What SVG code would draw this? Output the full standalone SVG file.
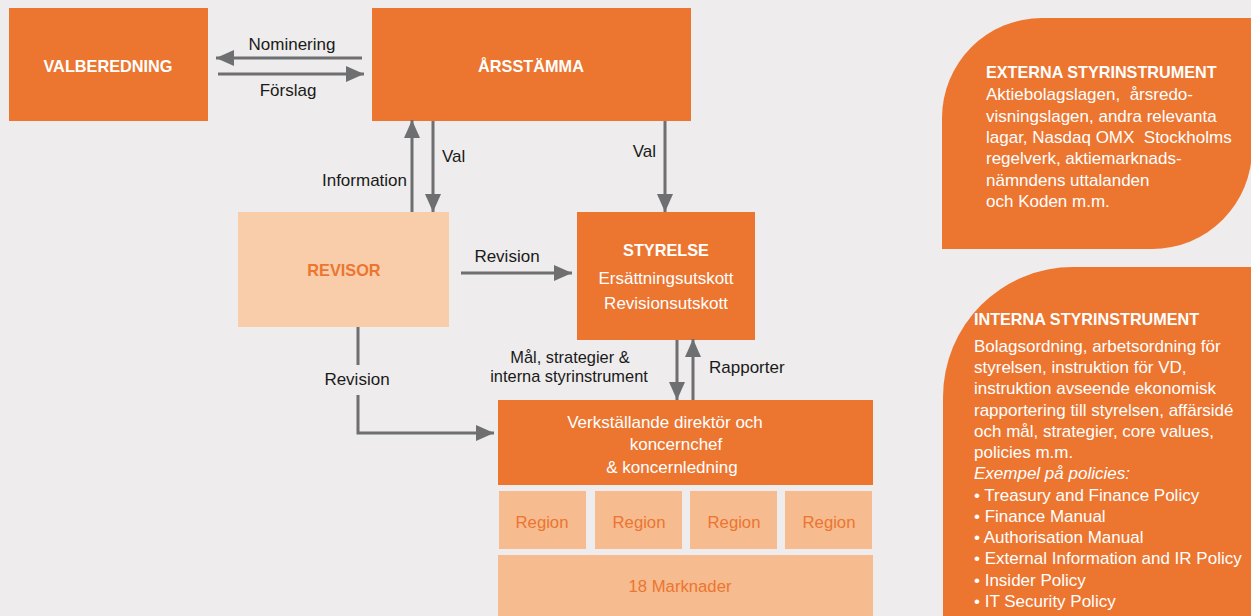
<svg xmlns="http://www.w3.org/2000/svg" width="1251" height="616" viewBox="0 0 1251 616">
<defs>
<style>
text{font-family:"Liberation Sans",Arial,sans-serif;}
.org{fill:#ec7530;}
.pale{fill:#f9cda9;}
.peach{fill:#f6bb8f;}
.bw{fill:#ffffff;font-weight:bold;font-size:16.3px;}
.w{fill:#ffffff;font-size:17px;}
.lbl{fill:#1a1a1a;font-size:17px;}
.sm{font-size:16.4px;}
.ot{fill:#ec7530;font-size:16.7px;}
.ob{fill:#ec7530;font-weight:bold;font-size:16.3px;}
.pt{fill:#ffffff;font-size:17px;white-space:pre;}
.ptb{fill:#ffffff;font-size:16.2px;font-weight:bold;}
.ln{stroke:#6e6f71;stroke-width:3;fill:none;}
.arr{marker-end:url(#ah);}
</style>
<marker id="ah" markerUnits="userSpaceOnUse" markerWidth="18" markerHeight="16" refX="18" refY="8" orient="auto">
<path d="M0,0 L18,8 L0,16 Z" fill="#6e6f71"/>
</marker>
</defs>
<rect width="1251" height="616" fill="#eeecec"/>

<g id="valberedning">
<rect class="org" x="9" y="8" width="199" height="113"/>
<text class="bw" x="108" y="72" text-anchor="middle">VALBEREDNING</text>
</g>
<g id="arsstamma">
<rect class="org" x="372" y="8" width="319" height="113"/>
<text class="bw" x="531" y="72" text-anchor="middle">ÅRSSTÄMMA</text>
</g>
<g id="revisor">
<rect class="pale" x="238" y="212" width="211" height="115"/>
<text class="ob" x="344" y="276" text-anchor="middle">REVISOR</text>
</g>
<g id="styrelse">
<rect class="org" x="577" y="212" width="178" height="128"/>
<text class="bw" x="666" y="256" text-anchor="middle">STYRELSE</text>
<text class="w" x="666" y="284" text-anchor="middle">Ersättningsutskott</text>
<text class="w" x="666" y="309" text-anchor="middle">Revisionsutskott</text>
</g>
<g id="vd">
<rect class="org" x="498" y="400" width="375" height="85"/>
<text class="w" x="665" y="428" text-anchor="middle">Verkställande direktör och</text>
<text class="w" x="676" y="450" text-anchor="middle">koncernchef</text>
<text class="w" x="672" y="473" text-anchor="middle">&amp; koncernledning</text>
</g>
<g id="regions">
<rect class="peach" x="499" y="491" width="87" height="58"/>
<rect class="peach" x="595" y="491" width="87" height="58"/>
<rect class="peach" x="690" y="491" width="87" height="58"/>
<rect class="peach" x="785" y="491" width="87" height="58"/>
<text class="ot" x="542" y="528" text-anchor="middle">Region</text>
<text class="ot" x="639" y="528" text-anchor="middle">Region</text>
<text class="ot" x="734" y="528" text-anchor="middle">Region</text>
<text class="ot" x="829" y="528" text-anchor="middle">Region</text>
</g>
<g id="marknader">
<rect class="peach" x="498" y="555" width="375" height="61"/>
<text class="ot" x="680" y="592" text-anchor="middle">18 Marknader</text>
</g>

<g id="connectors">
<line class="ln arr" x1="362" y1="58" x2="216" y2="58"/>
<line class="ln arr" x1="218" y1="74" x2="364" y2="74"/>
<text class="lbl" x="292" y="50" text-anchor="middle">Nominering</text>
<text class="lbl" x="288" y="96" text-anchor="middle">Förslag</text>

<line class="ln arr" x1="412" y1="212" x2="412" y2="120"/>
<line class="ln arr" x1="433" y1="121" x2="433" y2="212"/>
<text class="lbl" x="407" y="186" text-anchor="end">Information</text>
<text class="lbl" x="442" y="162" text-anchor="start">Val</text>

<line class="ln arr" x1="665" y1="121" x2="665" y2="212"/>
<text class="lbl" x="656" y="157" text-anchor="end">Val</text>

<line class="ln arr" x1="461" y1="273" x2="572" y2="273"/>
<text class="lbl" x="507" y="262" text-anchor="middle">Revision</text>

<line class="ln" x1="358" y1="327" x2="358" y2="365"/>
<polyline class="ln arr" points="358,395 358,433 494,433"/>
<text class="lbl" x="357" y="385" text-anchor="middle">Revision</text>

<line class="ln arr" x1="677" y1="340" x2="677" y2="400"/>
<line class="ln arr" x1="693" y1="400" x2="693" y2="339"/>
<text class="lbl sm" x="570" y="363" text-anchor="middle">Mål, strategier &amp;</text>
<text class="lbl sm" x="569" y="382" text-anchor="middle">interna styrinstrument</text>
<text class="lbl" x="709" y="373" text-anchor="start">Rapporter</text>
</g>

<g id="externa">
<path class="org" d="M942,249 V118 A100,100 0 0 1 1042,18 H1252 V149 A100,100 0 0 1 1152,249 Z"/>
<text class="ptb" x="986" y="78">EXTERNA STYRINSTRUMENT</text>
<text class="pt" x="986" y="100" xml:space="preserve">Aktiebolagslagen,  årsredo-</text>
<text class="pt" x="986" y="122">visningslagen, andra relevanta</text>
<text class="pt" x="986" y="143" xml:space="preserve">lagar, Nasdaq OMX  Stockholms</text>
<text class="pt" x="986" y="164">regelverk, aktiemarknads-</text>
<text class="pt" x="986" y="186">nämndens uttalanden</text>
<text class="pt" x="986" y="207">och Koden m.m.</text>
</g>
<g id="interna">
<path class="org" d="M943,620 V397 A130,130 0 0 1 1073,267 H1255 V620 Z"/>
<text class="ptb" x="974" y="325">INTERNA STYRINSTRUMENT</text>
<text class="pt" x="974" y="352">Bolagsordning, arbetsordning för</text>
<text class="pt" x="974" y="373">styrelsen, instruktion för VD,</text>
<text class="pt" x="974" y="394">instruktion avseende ekonomisk</text>
<text class="pt" x="974" y="416">rapportering till styrelsen, affärsidé</text>
<text class="pt" x="974" y="437">och mål, strategier, core values,</text>
<text class="pt" x="974" y="458">policies m.m.</text>
<text class="pt" x="974" y="479" font-style="italic">Exempel på policies:</text>
<text class="pt" x="974" y="501">• Treasury and Finance Policy</text>
<text class="pt" x="974" y="522">• Finance Manual</text>
<text class="pt" x="974" y="543">• Authorisation Manual</text>
<text class="pt" x="974" y="564">• External Information and IR Policy</text>
<text class="pt" x="974" y="586">• Insider Policy</text>
<text class="pt" x="974" y="607">• IT Security Policy</text>
</g>
</svg>
